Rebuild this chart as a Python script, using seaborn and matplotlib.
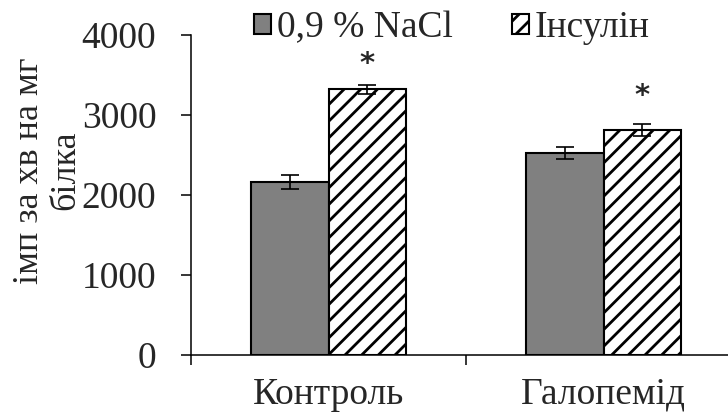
import matplotlib
matplotlib.use("Agg")
import matplotlib.pyplot as plt
from matplotlib.patches import Patch
from matplotlib.ticker import FixedLocator
import seaborn as sns
import pandas as pd
import numpy as np

# ---- data ----
categories = ["Контроль", "Галопемід"]
series = ["0,9 % NaCl", "Інсулін"]
nacl_values = [2160, 2525]
insulin_values = [3320, 2810]
nacl_err = [90, 80]
insulin_err = [60, 75]
star_heights = [3640, 3240]   # positions of significance marks (data units)
y_ticks = [0, 1000, 2000, 3000, 4000]
y_label_lines = ["імп за хв на мг", "білка"]

df = pd.DataFrame({
    "category": categories * 2,
    "group": [series[0]] * 2 + [series[1]] * 2,
    "value": nacl_values + insulin_values,
})

sns.set_theme(style="white")
plt.rcParams["font.family"] = ["Liberation Serif", "DejaVu Serif"]
plt.rcParams["hatch.linewidth"] = 2.0

FS = 27
fig = plt.figure(figsize=(7.28, 4.16), dpi=100)
ax = fig.add_axes([191 / 728, 61 / 416, 550 / 728, 320 / 416])

sns.barplot(data=df, x="category", y="value", hue="group", order=categories,
            hue_order=series, palette=["#808080", "white"], width=0.565,
            errorbar=None, ax=ax, edgecolor="black", linewidth=1.5,
            saturation=1, legend=False)

errs = [nacl_err, insulin_err]
bar_containers = list(ax.containers)
for ci, container in enumerate(bar_containers):
    for bi, bar in enumerate(container.patches):
        if ci == 1:
            bar.set_hatch("//")
        cx = bar.get_x() + bar.get_width() / 2
        h = bar.get_height()
        ax.errorbar(cx, h, yerr=errs[ci][bi], color="black", capsize=6.5,
                    elinewidth=1.2, capthick=1.2, fmt="none", zorder=5)
        if ci == 1:
            ax.text(cx, star_heights[bi], "*", ha="center", va="center",
                    fontsize=21, fontweight="bold", family="DejaVu Sans")

ax.set_ylim(0, 4000)
ax.set_xlim(-0.5, 1.5)
ax.set_yticks(y_ticks)
ax.set_yticklabels([str(t) for t in y_ticks], fontsize=FS)
ax.set_xticks(range(len(categories)))
ax.set_xticklabels(categories, fontsize=FS)
ax.xaxis.set_minor_locator(FixedLocator([-0.5, 0.5, 1.5]))
ax.tick_params(axis="x", which="major", length=0, pad=16)
ax.tick_params(axis="x", which="minor", length=7, width=1.1, color="black",
               direction="out", bottom=True)
ax.tick_params(axis="y", length=7, width=1.1, color="black", direction="out",
               left=True, pad=18)
ax.set_xlabel("")
ax.set_ylabel("")
for s in ["top", "right"]:
    ax.spines[s].set_visible(False)
for s in ["left", "bottom"]:
    ax.spines[s].set_color("black")
    ax.spines[s].set_linewidth(1.1)

fig.text(30 / 728, 1 - 171 / 416, y_label_lines[0], rotation=90, ha="center",
         va="center", fontsize=26)
fig.text(66 / 728, 1 - 170 / 416, y_label_lines[1], rotation=90, ha="center",
         va="center", fontsize=26)

handles = [Patch(facecolor="#808080", edgecolor="black", linewidth=1.5),
           Patch(facecolor="white", edgecolor="black", linewidth=1.5, hatch="//")]
fig.legend(handles, series, loc="center", bbox_to_anchor=(452 / 728, 1 - 28 / 416),
           ncol=2, frameon=False, fontsize=FS, handlelength=0.45, handleheight=0.45,
           handletextpad=0.15, columnspacing=1.6, borderpad=0, borderaxespad=0)

fig.savefig("out.png", dpi=100)
